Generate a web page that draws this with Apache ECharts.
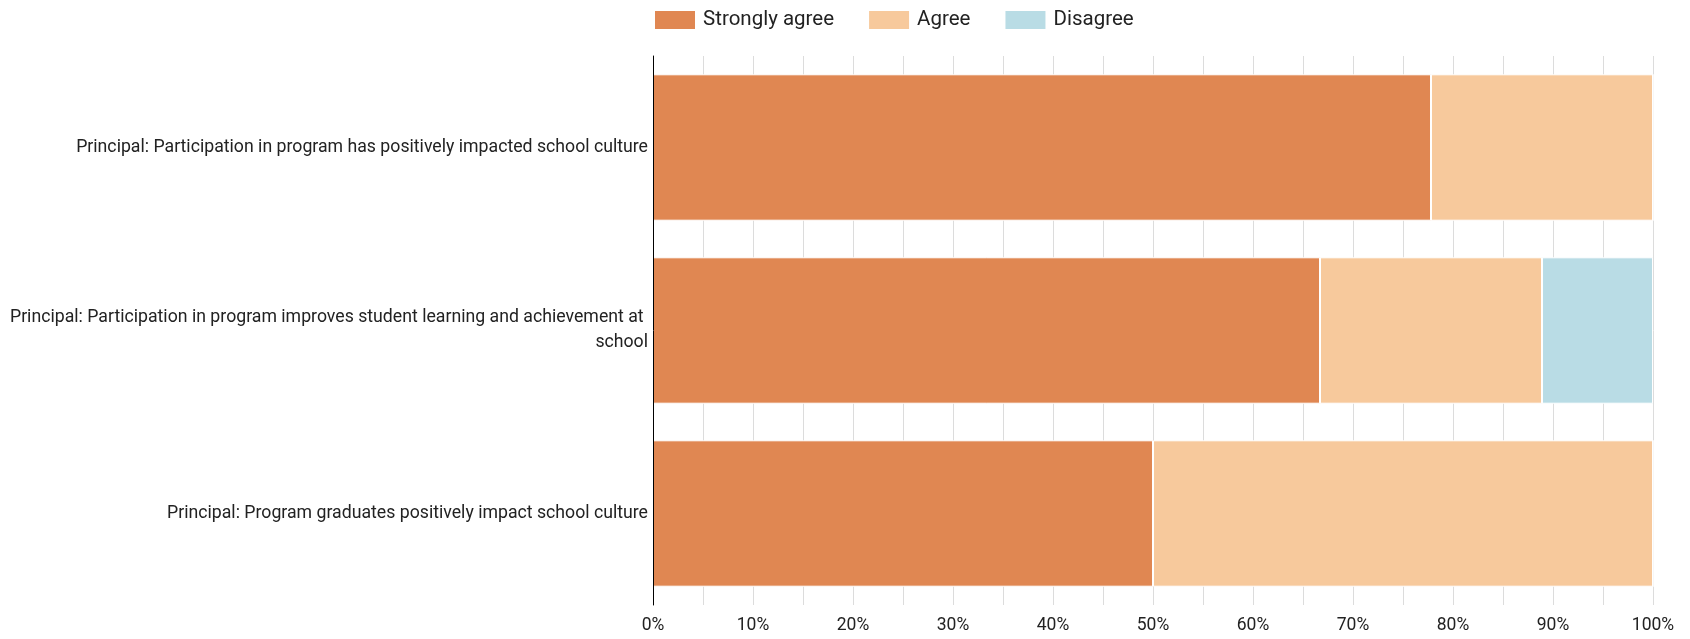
<!DOCTYPE html>
<html><head><meta charset="utf-8">
<script src="https://cdn.jsdelivr.net/npm/echarts@6/dist/echarts.min.js"></script>
<style>html,body{margin:0;padding:0;background:#fff}#c{width:1690px;height:639px}</style>
</head><body><div id="c"></div>
<script>
const categories = [
  "Principal: Participation in program has positively impacted school culture",
  "Principal: Participation in program improves student learning and achievement at school",
  "Principal: Program graduates positively impact school culture"
];
const seriesNames = ["Strongly agree", "Agree", "Disagree"];
const stronglyAgree = [77.8, 66.7, 50];
const agree = [22.2, 22.2, 50];
const disagree = [0, 11.1, 0];
const colors = ["#E08752", "#F7C99C", "#B9DCE5"];

const chart = echarts.init(document.getElementById('c'));
const font = 'Roboto, "Noto Sans", sans-serif';
const mk = (name, data, color) => ({
  name, type: 'bar', stack: 'total', data, barCategoryGap: '20%',
  itemStyle: { color, borderColor: '#fff', borderWidth: 1 },
  emphasis: { disabled: true }
});
chart.setOption({
  animation: false,
  textStyle: { fontFamily: font },
  legend: {
    left: 653, top: 9, padding: 0, itemWidth: 42, itemHeight: 20, itemGap: 33, icon: 'rect',
    textStyle: { fontSize: 20.5, color: '#222', fontFamily: font, padding: [0, 0, 0, 2] },
    data: seriesNames
  },
  grid: { left: 652, right: 37, top: 56, bottom: 34, containLabel: false },
  xAxis: {
    type: 'value', min: 0, max: 100, interval: 5,
    axisLine: { show: false }, axisTick: { show: false },
    splitLine: { show: true, lineStyle: { color: '#dcdcdc', width: 1 } },
    axisLabel: {
      fontSize: 17.5, color: '#222', margin: 12, fontFamily: font,
      formatter: v => (v % 10 === 0 ? v + '%' : '')
    }
  },
  yAxis: {
    type: 'category', data: categories, inverse: true, z: 5,
    axisLine: { show: true, lineStyle: { color: '#000', width: 1 } },
    axisTick: { show: false },
    axisLabel: {
      fontSize: 17.7, color: '#222', margin: 5, width: 645, overflow: 'break',
      align: 'right', lineHeight: 25, fontFamily: font
    }
  },
  series: [
    mk(seriesNames[0], stronglyAgree, colors[0]),
    mk(seriesNames[1], agree, colors[1]),
    mk(seriesNames[2], disagree, colors[2])
  ]
});
</script></body></html>
